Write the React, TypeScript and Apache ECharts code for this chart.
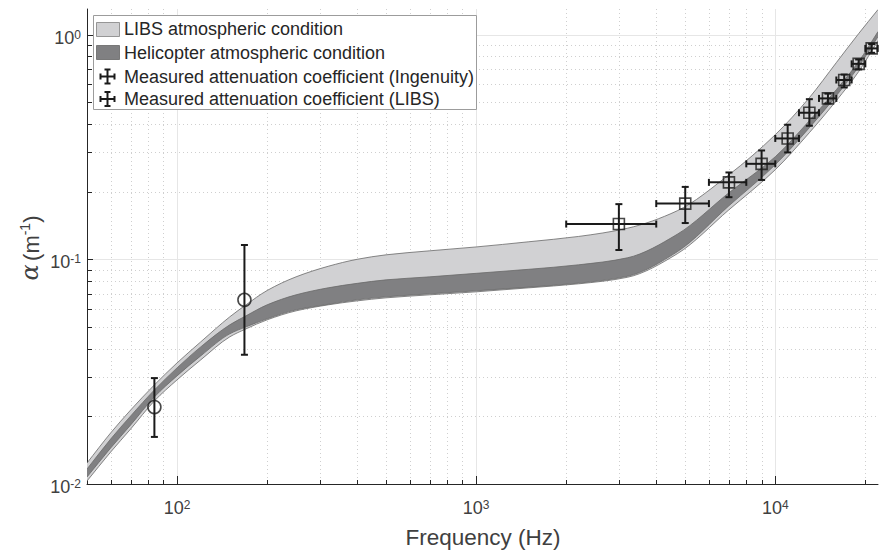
import React, { useEffect, useRef } from "react";
import * as echarts from "echarts";

// ---- Band data (frequency in Hz, attenuation coefficient in 1/m) ----
const bandFreq = [50, 60, 70, 84, 100, 120, 150, 170, 200, 250, 320, 400, 500, 700, 1000, 1500, 2200, 3200, 4700, 7000, 10000, 13000, 16000, 19000, 22050];
const libsUpper = [0.0124, 0.01688, 0.02136, 0.02761, 0.03459, 0.0429, 0.05543, 0.0627, 0.07262, 0.08356, 0.09307, 0.1, 0.1047, 0.1091, 0.1135, 0.1197, 0.1264, 0.1374, 0.1644, 0.2378, 0.3585, 0.524, 0.7505, 1.0103, 1.2924];
const libsLower = [0.01031, 0.01388, 0.01758, 0.02343, 0.02906, 0.03567, 0.04516, 0.04902, 0.05377, 0.05896, 0.0627, 0.06532, 0.06738, 0.06949, 0.07165, 0.07465, 0.07778, 0.08314, 0.1058, 0.1661, 0.2504, 0.3661, 0.5082, 0.6843, 0.9403];
const heliUpper = [0.01166, 0.01586, 0.02009, 0.02622, 0.03286, 0.04075, 0.05108, 0.05602, 0.0627, 0.06949, 0.07465, 0.07815, 0.08101, 0.08356, 0.08661, 0.09025, 0.09451, 0.1015, 0.1292, 0.1978, 0.2861, 0.414, 0.5689, 0.7584, 1.0312];
const heliLower = [0.01074, 0.01446, 0.01832, 0.02441, 0.03028, 0.03717, 0.04658, 0.05004, 0.05433, 0.05957, 0.06303, 0.066, 0.06807, 0.07019, 0.07239, 0.07519, 0.07834, 0.084, 0.108, 0.1731, 0.2636, 0.3852, 0.5349, 0.7203, 0.9797];

// ---- Measured points ----
const ingFreq = [84, 168];
const ingAlpha = [0.022, 0.066];
const ingLow = [0.0162, 0.0376];
const ingHigh = [0.0296, 0.1158];

const libsFreq = [3000, 5000, 7000, 9000, 11000, 13000, 15000, 17000, 19000, 21000];
const libsFreqLow = [2000, 4000, 6000, 8000, 10000, 12000, 14000, 16000, 18000, 20000];
const libsFreqHigh = [4000, 6000, 8000, 10000, 12000, 14000, 16000, 18000, 20000, 22000];
const libsAlpha = [0.1435, 0.177, 0.22, 0.266, 0.345, 0.449, 0.52, 0.628, 0.741, 0.868];
const libsLow = [0.11, 0.145, 0.189, 0.2255, 0.299, 0.393, 0.494, 0.582, 0.7, 0.83];
const libsHigh = [0.176, 0.21, 0.2435, 0.305, 0.397, 0.516, 0.546, 0.664, 0.775, 0.908];

// ---- Axes / ticks ----
const xMin = 50;
const xMax = 22050;
const yMin = 0.01;
const yMax = 1.3;
const xMajor = [100, 1000, 10000];
const xMinor = [60, 70, 80, 90, 200, 300, 400, 500, 600, 700, 800, 900, 2000, 3000, 4000, 5000, 6000, 7000, 8000, 9000, 20000];
const yMajor = [0.01, 0.1, 1];
const yMinor = [0.02, 0.03, 0.04, 0.05, 0.06, 0.07, 0.08, 0.09, 0.2, 0.3, 0.4, 0.5, 0.6, 0.7, 0.8, 0.9];

const legendLabels = [
  "LIBS atmospheric condition",
  "Helicopter atmospheric condition",
  "Measured attenuation coefficient (Ingenuity)",
  "Measured attenuation coefficient (LIBS)",
];

const LIGHT = "#d1d1d3";
const DARK = "#808082";
const EDGE = "#6a6a6a";
const INK = "#1a1a1a";
const AXIS = "#262626";
const LABEL = "#404040";
const FONT = "'Liberation Sans', Arial, Helvetica, sans-serif";

const powFmt = (v: number) => {
  const e = Math.log10(v);
  const r = Math.round(e);
  if (Math.abs(e - r) > 1e-6) return "";
  return `{b|10}{s|${r}}`;
};

const powRich = {
  b: { fontSize: 18, fontFamily: FONT, color: LABEL, verticalAlign: "bottom", lineHeight: 18, padding: [3, 0, 0, 0] },
  s: { fontSize: 12, fontFamily: FONT, color: LABEL, verticalAlign: "top", lineHeight: 12 },
};

// Monotone cubic (Fritsch-Butland) bezier segments through pixel points (x increasing)
function monoSegments(p: number[][]) {
  const n = p.length;
  const dx: number[] = [];
  const m: number[] = [];
  for (let i = 0; i < n - 1; i++) {
    dx.push(p[i + 1][0] - p[i][0]);
    m.push((p[i + 1][1] - p[i][1]) / (p[i + 1][0] - p[i][0]));
  }
  const t: number[] = [];
  for (let i = 0; i < n; i++) {
    if (i === 0) t.push(m[0]);
    else if (i === n - 1) t.push(m[n - 2]);
    else if (m[i - 1] * m[i] <= 0) t.push(0);
    else {
      const a = dx[i - 1];
      const b = dx[i];
      t.push((3 * (a + b)) / ((2 * b + a) / m[i - 1] + (b + 2 * a) / m[i]));
    }
  }
  const segs: number[][] = [];
  for (let i = 0; i < n - 1; i++) {
    const h = dx[i] / 3;
    segs.push([p[i][0] + h, p[i][1] + t[i] * h, p[i + 1][0] - h, p[i + 1][1] - t[i + 1] * h, p[i + 1][0], p[i + 1][1]]);
  }
  return segs;
}

function curvePath(p: number[][]) {
  const s = monoSegments(p);
  let d = `M${p[0][0]},${p[0][1]}`;
  s.forEach((g) => (d += `C${g[0]},${g[1]},${g[2]},${g[3]},${g[4]},${g[5]}`));
  return d;
}

function bandPath(up: number[][], lo: number[][]) {
  let d = curvePath(up);
  const n = lo.length;
  const s = monoSegments(lo);
  d += `L${lo[n - 1][0]},${lo[n - 1][1]}`;
  for (let i = s.length - 1; i >= 0; i--) {
    const g = s[i];
    d += `C${g[2]},${g[3]},${g[0]},${g[1]},${lo[i][0]},${lo[i][1]}`;
  }
  return d + "Z";
}

function bandSeries(upper: number[], lower: number[], color: string, z: number) {
  return {
    type: "custom",
    data: bandFreq.map((f, i) => [f, upper[i], lower[i]]),
    encode: { x: 0, y: 1 },
    clip: true,
    z,
    silent: true,
    renderItem: (params: any, api: any) => {
      if (params.dataIndexInside !== 0) return null;
      const n = params.dataInsideLength;
      const up: number[][] = [];
      const lo: number[][] = [];
      for (let i = 0; i < n; i++) {
        const f = api.value(0, i);
        up.push(api.coord([f, api.value(1, i)]));
        lo.push(api.coord([f, api.value(2, i)]));
      }
      return {
        type: "group",
        children: [
          { type: "path", shape: { pathData: bandPath(up, lo) }, style: { fill: color, stroke: "none" } },
          { type: "path", shape: { pathData: curvePath(up) }, style: { fill: "none", stroke: EDGE, lineWidth: 0.8 } },
          { type: "path", shape: { pathData: curvePath(lo) }, style: { fill: "none", stroke: EDGE, lineWidth: 0.8 } },
        ],
      };
    },
  };
}

function errorSeries(data: number[][], withX: boolean) {
  return {
    type: "custom",
    data,
    encode: { x: 0, y: 1 },
    z: 5,
    silent: true,
    renderItem: (_params: any, api: any) => {
      const f = api.value(0);
      const a = api.value(1);
      const lo = api.value(2);
      const hi = api.value(3);
      const pLo = api.coord([f, lo]);
      const pHi = api.coord([f, hi]);
      const cap = 3.5;
      const st = { stroke: INK, lineWidth: 2 };
      const children: any[] = [
        { type: "line", shape: { x1: pLo[0], y1: pLo[1], x2: pHi[0], y2: pHi[1] }, style: st },
        { type: "line", shape: { x1: pLo[0] - cap, y1: pLo[1], x2: pLo[0] + cap, y2: pLo[1] }, style: st },
        { type: "line", shape: { x1: pHi[0] - cap, y1: pHi[1], x2: pHi[0] + cap, y2: pHi[1] }, style: st },
      ];
      if (withX) {
        const pL = api.coord([api.value(4), a]);
        const pR = api.coord([api.value(5), a]);
        children.push(
          { type: "line", shape: { x1: pL[0], y1: pL[1], x2: pR[0], y2: pR[1] }, style: st },
          { type: "line", shape: { x1: pL[0], y1: pL[1] - cap, x2: pL[0], y2: pL[1] + cap }, style: st },
          { type: "line", shape: { x1: pR[0], y1: pR[1] - cap, x2: pR[0], y2: pR[1] + cap }, style: st }
        );
      }
      return { type: "group", children };
    },
  };
}

function gridSeries() {
  return {
    type: "custom",
    data: [[100, 0.1]],
    encode: { x: 0, y: 1 },
    z: 0,
    silent: true,
    renderItem: (params: any, api: any) => {
      const cs = params.coordSys;
      const top = cs.y;
      const bottom = cs.y + cs.height;
      const left = cs.x;
      const right = cs.x + cs.width;
      const ch: any[] = [];
      const dot = { stroke: "#cfcfcf", lineWidth: 1, lineDash: [1, 3] };
      const solid = { stroke: "#e6e6e6", lineWidth: 1 };
      xMinor.forEach((v) => {
        const x = Math.round(api.coord([v, yMin])[0]) + 0.5;
        ch.push({ type: "line", shape: { x1: x, y1: top, x2: x, y2: bottom }, style: dot });
      });
      yMinor.forEach((v) => {
        const y = Math.round(api.coord([xMin, v])[1]) + 0.5;
        ch.push({ type: "line", shape: { x1: left, y1: y, x2: right, y2: y }, style: dot });
      });
      xMajor.forEach((v) => {
        const x = Math.round(api.coord([v, yMin])[0]) + 0.5;
        ch.push({ type: "line", shape: { x1: x, y1: top, x2: x, y2: bottom }, style: solid });
      });
      yMajor.forEach((v) => {
        const y = Math.round(api.coord([xMin, v])[1]) + 0.5;
        ch.push({ type: "line", shape: { x1: left, y1: y, x2: right, y2: y }, style: solid });
      });
      return { type: "group", children: ch };
    },
  };
}

function tickSeries() {
  return {
    type: "custom",
    data: [[100, 0.1]],
    encode: { x: 0, y: 1 },
    z: 8,
    silent: true,
    renderItem: (params: any, api: any) => {
      const cs = params.coordSys;
      const bottom = cs.y + cs.height;
      const left = cs.x;
      const ch: any[] = [];
      const st = { stroke: AXIS, lineWidth: 1 };
      xMinor.forEach((v) => {
        const x = Math.round(api.coord([v, yMin])[0]) + 0.5;
        ch.push({ type: "line", shape: { x1: x, y1: bottom, x2: x, y2: bottom - 4 }, style: st });
      });
      xMajor.forEach((v) => {
        const x = Math.round(api.coord([v, yMin])[0]) + 0.5;
        ch.push({ type: "line", shape: { x1: x, y1: bottom, x2: x, y2: bottom - 8 }, style: st });
      });
      yMinor.forEach((v) => {
        const y = Math.round(api.coord([xMin, v])[1]) + 0.5;
        ch.push({ type: "line", shape: { x1: left, y1: y, x2: left + 5, y2: y }, style: st });
      });
      yMajor.forEach((v) => {
        const y = Math.round(api.coord([xMin, v])[1]) + 0.5;
        ch.push({ type: "line", shape: { x1: left, y1: y, x2: left + 6, y2: y }, style: st });
      });
      return { type: "group", children: ch };
    },
  };
}

function errIcon(cx: number, cy: number) {
  const st = { stroke: INK, lineWidth: 2 };
  const h = 7;
  const w = 7;
  const c = 3;
  return {
    type: "group",
    z: 101,
    children: [
      { type: "line", shape: { x1: cx, y1: cy - h, x2: cx, y2: cy + h }, style: st, z: 101 },
      { type: "line", shape: { x1: cx - c, y1: cy - h, x2: cx + c, y2: cy - h }, style: st, z: 101 },
      { type: "line", shape: { x1: cx - c, y1: cy + h, x2: cx + c, y2: cy + h }, style: st, z: 101 },
      { type: "line", shape: { x1: cx - w, y1: cy, x2: cx + w, y2: cy }, style: st, z: 101 },
      { type: "line", shape: { x1: cx - w, y1: cy - c, x2: cx - w, y2: cy + c }, style: st, z: 101 },
      { type: "line", shape: { x1: cx + w, y1: cy - c, x2: cx + w, y2: cy + c }, style: st, z: 101 },
    ],
  };
}

export default function App() {
  const ref = useRef<HTMLDivElement>(null);
  useEffect(() => {
    if (!ref.current) return;
    const chart = echarts.init(ref.current, undefined, { renderer: "svg" });
    const rowY = [29, 52.5, 76.5, 99];
    const option: any = {
      animation: false,
      backgroundColor: "#ffffff",
      grid: { left: 87, right: 1, top: 9, bottom: 67, containLabel: false },
      xAxis: {
        type: "log",
        logBase: 10,
        min: xMin,
        max: xMax,
        axisLine: { show: true, lineStyle: { color: AXIS, width: 1 } },
        axisTick: { show: false },
        splitLine: { show: false },
        axisLabel: { formatter: powFmt, rich: powRich, margin: 15, color: LABEL },
      },
      yAxis: {
        type: "log",
        logBase: 10,
        min: yMin,
        max: yMax,
        axisLine: { show: true, lineStyle: { color: AXIS, width: 1 } },
        axisTick: { show: false },
        splitLine: { show: false },
        axisLabel: { formatter: powFmt, rich: powRich, margin: 6, color: LABEL, padding: [6, 0, 0, 0] },
      },
      series: [
        gridSeries(),
        bandSeries(libsUpper, libsLower, LIGHT, 2),
        bandSeries(heliUpper, heliLower, DARK, 3),
        errorSeries(ingFreq.map((f, i) => [f, ingAlpha[i], ingLow[i], ingHigh[i]]), false),
        errorSeries(libsFreq.map((f, i) => [f, libsAlpha[i], libsLow[i], libsHigh[i], libsFreqLow[i], libsFreqHigh[i]]), true),
        {
          type: "scatter",
          data: ingFreq.map((f, i) => [f, ingAlpha[i]]),
          symbol: "circle",
          symbolSize: 13,
          itemStyle: { color: "rgba(0,0,0,0)", borderColor: INK, borderWidth: 1.6 },
          z: 6,
          silent: true,
        },
        {
          type: "scatter",
          data: libsFreq.map((f, i) => [f, libsAlpha[i]]),
          symbol: "rect",
          symbolSize: 11,
          itemStyle: { color: "rgba(0,0,0,0)", borderColor: INK, borderWidth: 1.6 },
          z: 6,
          silent: true,
        },
        tickSeries(),
      ],
      graphic: [
        {
          type: "rect",
          z: 100,
          shape: { x: 93.5, y: 15.5, width: 383, height: 94 },
          style: { fill: "#ffffff", stroke: "#9c9c9c", lineWidth: 1 },
        },
        {
          type: "rect",
          z: 101,
          shape: { x: 96.5, y: 22.5, width: 23, height: 14 },
          style: { fill: LIGHT, stroke: "#808080", lineWidth: 0.8 },
        },
        {
          type: "rect",
          z: 101,
          shape: { x: 96.5, y: 45.5, width: 23, height: 14 },
          style: { fill: DARK, stroke: "#666666", lineWidth: 0.8 },
        },
        errIcon(107.5, rowY[2]),
        errIcon(107.5, rowY[3]),
        ...legendLabels.map((t, i) => ({
          type: "text",
          z: 101,
          x: 124,
          y: rowY[i],
          style: { text: t, fontSize: 18, fontFamily: FONT, fill: AXIS, verticalAlign: "middle", align: "left" },
        })),
        {
          type: "text",
          z: 101,
          x: 483,
          y: 537,
          style: { text: "Frequency (Hz)", fontSize: 22.5, fontFamily: FONT, fill: LABEL, align: "center", verticalAlign: "middle" },
        },
        {
          type: "text",
          z: 101,
          x: 30,
          y: 248,
          rotation: Math.PI / 2,
          style: {
            text: "{a|α} {n|(m}{s|-1}{n|)}",
            align: "center",
            verticalAlign: "middle",
            rich: {
              a: { fontSize: 24, fontFamily: "'DejaVu Serif', 'Liberation Serif', serif", fontStyle: "italic", fill: LABEL, verticalAlign: "bottom", lineHeight: 24, padding: [3, 0, 0, 0] },
              n: { fontSize: 22, fontFamily: FONT, fill: LABEL, verticalAlign: "bottom", lineHeight: 22, padding: [3, 0, 0, 0] },
              s: { fontSize: 14, fontFamily: FONT, fill: LABEL, verticalAlign: "top", lineHeight: 14 },
            },
          },
        },
      ],
    };
    chart.setOption(option);
    return () => chart.dispose();
  }, []);
  return <div ref={ref} style={{ position: "fixed", left: 0, top: 0, width: 881, height: 551 }} />;
}
